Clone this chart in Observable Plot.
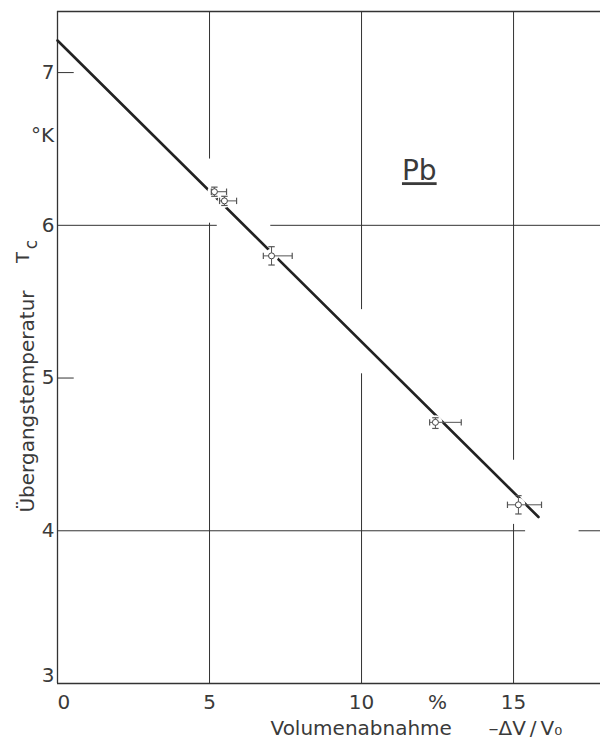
<!DOCTYPE html>
<html><head><meta charset="utf-8">
<script src="https://cdn.jsdelivr.net/npm/d3@7"></script>
<script src="https://cdn.jsdelivr.net/npm/@observablehq/plot@0.6"></script>
<style>body{margin:0;background:#fff}</style>
</head><body><div id="chart"></div>
<script>
// ---- data ----
const volX   = [5.16, 5.49, 7.04, 12.43, 15.16];   // -ΔV/V0 in %
const tempT  = [6.22, 6.16, 5.80, 4.71, 4.17];     // Tc in K
const volLo  = [5.06, 5.33, 6.77, 12.24, 14.80];
const volHi  = [5.56, 5.89, 7.72, 13.28, 15.92];
const tempLo = [6.19, 6.13, 5.74, 4.67, 4.11];
const tempHi = [6.25, 6.19, 5.86, 4.74, 4.23];
const fitX = [0, 15.82];
const fitT = [7.21, 4.09];
const xGrid = [5, 10, 15];
const yGrid = [4, 6];
const yShortTicks = [5, 7];
const xTickValues = [0, 5, 10, 12.5, 15];
const xTickLabels = ["0", "5", "10", "%", "15"];
const yTickValues = [3, 4, 5, 6, 7];
const xDomain = [0, 17.86];
const yDomain = [3, 7.40];
const annX = [11.9], annT = [6.354], annText = ["Pb"];

// ---- derived tables ----
const pts = volX.map((x, i) => ({x, t: tempT[i], lo: volLo[i], hi: volHi[i], tlo: tempLo[i], thi: tempHi[i]}));
const fit = fitX.map((x, i) => ({x, t: fitT[i]}));
const slope = (fitT[1] - fitT[0]) / (fitX[1] - fitX[0]);
const tAt = x => fitT[0] + slope * (x - fitX[0]);
const xAt = t => fitX[0] + (t - fitT[0]) / slope;
const gapT = 0.21, gapX = 0.88;
const vSegs = xGrid.flatMap(g => [
  {x: g, y1: yDomain[0], y2: tAt(g) - gapT},
  {x: g, y1: tAt(g) + gapT, y2: yDomain[1]}
]);
const hSegs = yGrid.flatMap(g => [
  {y: g, x1: xDomain[0], x2: xAt(g) - gapX},
  {y: g, x1: xAt(g) + gapX, x2: xDomain[1]}
]);
const vCap = {draw(ctx, size) { const r = Math.sqrt(size / Math.PI); ctx.moveTo(0, -r); ctx.lineTo(0, r); }};
const hCap = {draw(ctx, size) { const r = Math.sqrt(size / Math.PI); ctx.moveTo(-r, 0); ctx.lineTo(r, 0); }};
const ink = "#333";
const txt = "#3a3a3a";
const font = "DejaVu Sans";
const T = {textAnchor: "middle", lineAnchor: "middle", fill: txt};

const chart = Plot.plot({
  width: 600, height: 739,
  marginLeft: 57, marginRight: 0, marginTop: 11, marginBottom: 56,
  x: {domain: xDomain, axis: null},
  y: {domain: yDomain, axis: null},
  style: {fontFamily: font, background: "#fff"},
  marks: [
    // frame
    Plot.ruleX([xDomain[0]], {stroke: ink, strokeWidth: 1.3}),
    Plot.ruleY(yDomain, {stroke: ink, strokeWidth: 1.3}),
    // grid with gaps around the fitted line
    Plot.ruleX(vSegs, {x: "x", y1: "y1", y2: "y2", stroke: ink, strokeWidth: 1}),
    Plot.ruleY(hSegs, {y: "y", x1: "x1", x2: "x2", stroke: ink, strokeWidth: 1}),
    Plot.ruleY(yShortTicks, {x1: 0, x2: 0.55, stroke: ink, strokeWidth: 1}),
    // fitted line
    Plot.line(fit, {x: "x", y: "t", stroke: "#222", strokeWidth: 2.6}),
    Plot.dot(pts, {x: "x", y: "t", r: 7, fill: "#fff", stroke: "none"}),
    // error bars
    Plot.link(pts, {x1: "lo", x2: "hi", y1: "t", y2: "t", stroke: "#555", strokeWidth: 1}),
    Plot.link(pts, {x1: "x", x2: "x", y1: "tlo", y2: "thi", stroke: "#555", strokeWidth: 1}),
    Plot.dot(pts, {x: "lo", y: "t", symbol: vCap, r: 3.2, fill: "none", stroke: "#555", strokeWidth: 1.2}),
    Plot.dot(pts, {x: "hi", y: "t", symbol: vCap, r: 3.2, fill: "none", stroke: "#555", strokeWidth: 1.2}),
    Plot.dot(pts, {x: "x", y: "tlo", symbol: hCap, r: 3.2, fill: "none", stroke: "#555", strokeWidth: 1.2}),
    Plot.dot(pts, {x: "x", y: "thi", symbol: hCap, r: 3.2, fill: "none", stroke: "#555", strokeWidth: 1.2}),
    Plot.dot(pts, {x: "x", y: "t", r: 3, fill: "#fff", stroke: "#444", strokeWidth: 1}),
    // tick labels
    Plot.text(xTickValues.slice(1), {...T, x: d => d, text: (d, i) => xTickLabels[i + 1], frameAnchor: "bottom", dy: 19, fontSize: 20}),
    Plot.text(xTickValues.slice(0, 1), {...T, x: d => d, text: () => xTickLabels[0], frameAnchor: "bottom", textAnchor: "start", dy: 19, fontSize: 20}),
    Plot.text(yTickValues.slice(1), {...T, y: d => d, text: d => String(d), frameAnchor: "left", textAnchor: "end", dx: -3, fontSize: 20}),
    Plot.text(yTickValues.slice(0, 1), {...T, y: d => d, text: d => String(d), frameAnchor: "left", textAnchor: "end", dx: -3, dy: -8, fontSize: 20}),
    // axis titles
    Plot.text(["Volumenabnahme"], {...T, frameAnchor: "bottom-left", textAnchor: "start", dx: 213, dy: 45, fontSize: 20}),
    Plot.text(["–ΔV\u2009/\u2009V₀"], {...T, frameAnchor: "bottom-left", textAnchor: "start", dx: 431, dy: 45, fontSize: 20}),
    Plot.text(["Übergangstemperatur"], {...T, frameAnchor: "left", rotate: -90, dx: -30, dy: 54, fontSize: 20}),
    Plot.text(["T"], {...T, frameAnchor: "left", rotate: -90, dx: -34.5, dy: -90, fontSize: 18}),
    Plot.text(["c"], {...T, frameAnchor: "left", rotate: -90, dx: -25.5, dy: -103, fontSize: 17}),
    Plot.text(["°K"], {...T, frameAnchor: "top-left", dx: -15, dy: 124, fontSize: 20}),
    // annotation
    Plot.text(annText, {...T, x: (d, i) => annX[i], y: (d, i) => annT[i], text: d => d, fontSize: 28})
  ]
});
d3.select(chart).selectAll("text").filter(function() { return this.textContent === "Pb"; })
  .style("text-decoration", "underline");
document.getElementById("chart").append(chart);
</script>
</body></html>
